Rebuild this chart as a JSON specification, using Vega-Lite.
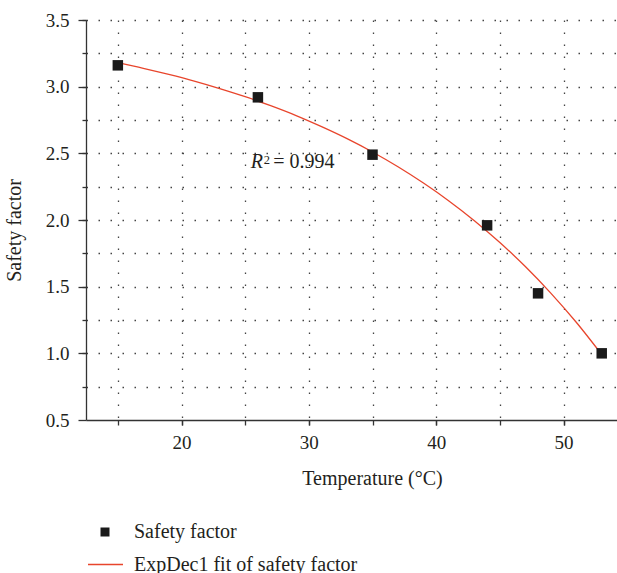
{
  "$schema": "https://vega.github.io/schema/vega-lite/v6.json",
  "width": 531,
  "height": 400,
  "autosize": {"type": "none"},
  "padding": {"left": 86, "top": 20, "right": 0, "bottom": 153},
  "background": "white",
  "config": {
    "view": {"stroke": null},
    "font": "Liberation Serif",
    "axis": {
      "labelFont": "Liberation Serif",
      "labelFontSize": 19,
      "labelColor": "#231f20",
      "titleFont": "Liberation Serif",
      "titleFontSize": 20,
      "titleFontWeight": "normal",
      "titleColor": "#231f20",
      "domainColor": "#333333",
      "domainWidth": 1.3,
      "tickColor": "#333333",
      "tickWidth": 1.3
    },
    "legend": {
      "labelFont": "Liberation Serif",
      "labelFontSize": 20,
      "labelColor": "#231f20",
      "labelLimit": 400,
      "padding": 0
    }
  },
  "datasets": {
    "measured": [
      {"T": 15, "SF": 3.16, "pt": "Safety factor"},
      {"T": 26, "SF": 2.92, "pt": "Safety factor"},
      {"T": 35, "SF": 2.49, "pt": "Safety factor"},
      {"T": 44, "SF": 1.96, "pt": "Safety factor"},
      {"T": 48, "SF": 1.45, "pt": "Safety factor"},
      {"T": 53, "SF": 1.0, "pt": "Safety factor"}
    ],
    "fit": [
      {"T": 15, "SF": 3.18, "fit": "ExpDec1 fit of safety factor"},
      {"T": 17, "SF": 3.138, "fit": "ExpDec1 fit of safety factor"},
      {"T": 19, "SF": 3.092, "fit": "ExpDec1 fit of safety factor"},
      {"T": 21, "SF": 3.042, "fit": "ExpDec1 fit of safety factor"},
      {"T": 23, "SF": 2.986, "fit": "ExpDec1 fit of safety factor"},
      {"T": 25, "SF": 2.925, "fit": "ExpDec1 fit of safety factor"},
      {"T": 27, "SF": 2.857, "fit": "ExpDec1 fit of safety factor"},
      {"T": 29, "SF": 2.783, "fit": "ExpDec1 fit of safety factor"},
      {"T": 31, "SF": 2.7, "fit": "ExpDec1 fit of safety factor"},
      {"T": 33, "SF": 2.61, "fit": "ExpDec1 fit of safety factor"},
      {"T": 35, "SF": 2.51, "fit": "ExpDec1 fit of safety factor"},
      {"T": 37, "SF": 2.399, "fit": "ExpDec1 fit of safety factor"},
      {"T": 39, "SF": 2.277, "fit": "ExpDec1 fit of safety factor"},
      {"T": 41, "SF": 2.143, "fit": "ExpDec1 fit of safety factor"},
      {"T": 43, "SF": 1.995, "fit": "ExpDec1 fit of safety factor"},
      {"T": 45, "SF": 1.831, "fit": "ExpDec1 fit of safety factor"},
      {"T": 47, "SF": 1.651, "fit": "ExpDec1 fit of safety factor"},
      {"T": 49, "SF": 1.452, "fit": "ExpDec1 fit of safety factor"},
      {"T": 51, "SF": 1.233, "fit": "ExpDec1 fit of safety factor"},
      {"T": 53, "SF": 0.991, "fit": "ExpDec1 fit of safety factor"}
    ],
    "annR": [{"T": 25.44, "SF": 2.39, "txt": "R"}],
    "annSup": [{"T": 26.46, "SF": 2.418, "txt": "2"}],
    "annRest": [{"T": 27.2, "SF": 2.39, "txt": "= 0.994"}]
  },
  "resolve": {"axis": {"x": "independent", "y": "independent"}},
  "layer": [
    {
      "data": {"name": "fit"},
      "mark": {"type": "line", "color": "#e8452c", "strokeWidth": 1.3, "interpolate": "monotone"},
      "encoding": {
        "x": {
          "field": "T", "type": "quantitative",
          "scale": {"domain": [12.5, 54.2], "nice": false, "zero": false},
          "axis": {
            "orient": "bottom",
            "values": [15, 20, 25, 30, 35, 40, 45, 50],
            "grid": true, "gridDash": [1.5, 10.5], "gridColor": "#444444", "gridWidth": 1.3,
            "labels": false, "domain": false, "ticks": true, "tickSize": 5, "title": null
          }
        },
        "y": {
          "field": "SF", "type": "quantitative",
          "scale": {"domain": [0.5, 3.5], "nice": false, "zero": false},
          "axis": {
            "orient": "left",
            "values": [0.75, 1, 1.25, 1.5, 1.75, 2, 2.25, 2.5, 2.75, 3, 3.25, 3.5],
            "grid": true, "gridDash": [1.5, 10.5], "gridColor": "#444444", "gridWidth": 1.3,
            "labels": false, "domain": false, "ticks": true, "tickSize": 4, "title": null
          }
        },
        "stroke": {
          "field": "fit", "type": "nominal",
          "scale": {"range": ["#e8452c"]},
          "legend": {
            "orient": "none", "legendX": 1, "legendY": 526, "title": null,
            "symbolType": "stroke", "symbolSize": 1225, "symbolStrokeWidth": 1.3,
            "labelOffset": 10, "labelFont": "Liberation Serif"
          }
        }
      }
    },
    {
      "data": {"name": "measured"},
      "mark": {"type": "point", "shape": "square", "filled": true, "color": "#1a1a1a", "size": 110, "opacity": 1},
      "encoding": {
        "x": {
          "field": "T", "type": "quantitative",
          "scale": {"domain": [12.5, 54.2], "nice": false, "zero": false},
          "axis": {
            "orient": "bottom",
            "values": [20, 30, 40, 50], "format": "d",
            "labelFont": "Liberation Serif",
            "grid": false, "domain": true, "ticks": true, "tickSize": 5, "labelPadding": 8,
            "title": "Temperature (°C)", "titleX": 286, "titleY": 64, "titleAlign": "center", "titleBaseline": "alphabetic"
          }
        },
        "y": {
          "field": "SF", "type": "quantitative",
          "scale": {"domain": [0.5, 3.5], "nice": false, "zero": false},
          "axis": {
            "orient": "left",
            "values": [0.5, 1, 1.5, 2, 2.5, 3, 3.5], "format": ".1f",
            "labelFont": "Liberation Serif",
            "grid": false, "domain": true, "ticks": true, "tickSize": 8, "labelPadding": 9,
            "title": "Safety factor", "titleX": -66, "titleY": 210, "titleAlign": "center", "titleBaseline": "alphabetic", "titleAngle": 270
          }
        },
        "shape": {
          "field": "pt", "type": "nominal",
          "scale": {"range": ["square"]},
          "legend": {
            "orient": "none", "legendX": 9, "legendY": 502, "title": null,
            "symbolFillColor": "#1a1a1a", "symbolStrokeWidth": 0, "symbolSize": 81,
            "labelOffset": 19, "labelFont": "Liberation Serif"
          }
        }
      }
    },
    {
      "data": {"name": "annR"},
      "mark": {"type": "text", "font": "Liberation Serif", "fontStyle": "italic", "fontSize": 20, "align": "left", "baseline": "alphabetic", "color": "#231f20"},
      "encoding": {
        "x": {"field": "T", "type": "quantitative", "axis": null},
        "y": {"field": "SF", "type": "quantitative", "axis": null},
        "text": {"field": "txt"}
      }
    },
    {
      "data": {"name": "annSup"},
      "mark": {"type": "text", "font": "Liberation Serif", "fontSize": 12.5, "align": "left", "baseline": "alphabetic", "color": "#231f20"},
      "encoding": {
        "x": {"field": "T", "type": "quantitative", "axis": null},
        "y": {"field": "SF", "type": "quantitative", "axis": null},
        "text": {"field": "txt"}
      }
    },
    {
      "data": {"name": "annRest"},
      "mark": {"type": "text", "font": "Liberation Serif", "fontSize": 20, "align": "left", "baseline": "alphabetic", "color": "#231f20"},
      "encoding": {
        "x": {"field": "T", "type": "quantitative", "axis": null},
        "y": {"field": "SF", "type": "quantitative", "axis": null},
        "text": {"field": "txt"}
      }
    }
  ]
}
